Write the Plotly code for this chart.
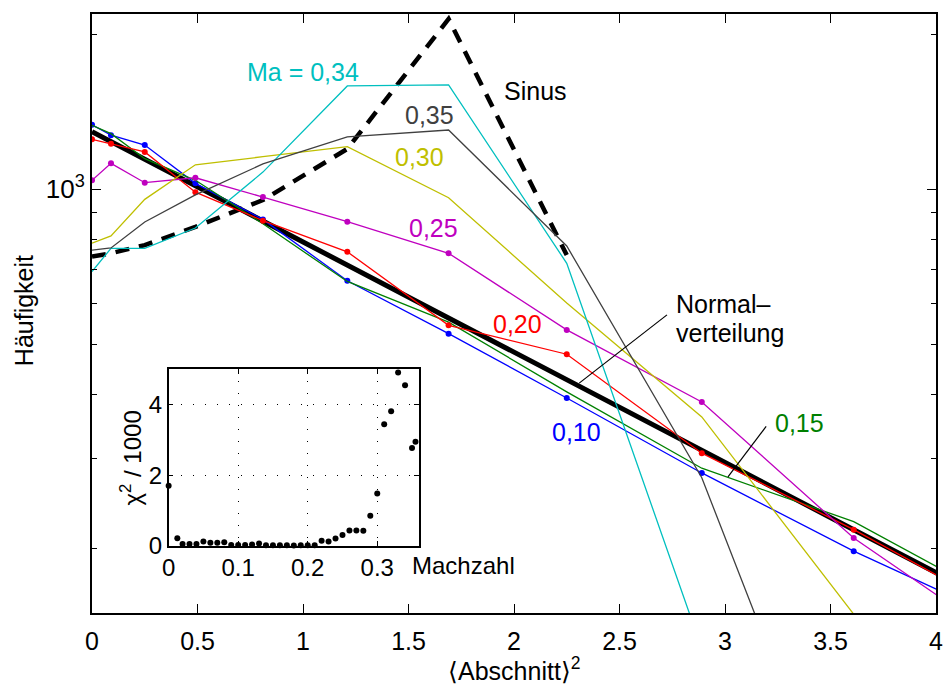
import math
import plotly.graph_objects as go

# x positions: squared bin centres  <Abschnitt>^2
abschnitt_sq = [0.0, 0.09, 0.25, 0.49, 0.81, 1.21, 1.69, 2.25, 2.89, 3.61, 4.41]

# frequency counts per Mach number
ma_010 = [1335, 1274, 1219, 1027, 874, 664, 524, 393, 281, 198, 140]
ma_015 = [1332, 1283, 1147, 1041, 857, 662, 552, 404, 287, 226, 150]
ma_020 = [1251, 1226, 1182, 987, 869, 756, 544, 478, 307, 218, 144]
ma_025 = [1041, 1123, 1030, 1053, 966, 865, 751, 533, 386, 210, 125]
ma_030 = [786, 812, 956, 1116, 1157, 1210, 963, 601, 361, 148, 56]
ma_034 = [692, 768, 768, 841, 1080, 1588, 1595, 718, 128, 25, 5]
ma_035 = [762, 769, 864, 975, 1120, 1265, 1304, 776, 275, 48, 15]

# reference distributions
normal = [1294, 1238, 1144, 1016, 868, 712, 562, 426, 311, 218, 147]
sinus = [740, 751, 779, 845, 953, 1198, 2143, 745, None, None, None]

# inset: chi^2 / 1000 versus Mach number
mach = [0.0, 0.0125, 0.02, 0.03, 0.04, 0.05, 0.06, 0.07, 0.08, 0.09,
        0.10, 0.11, 0.12, 0.13, 0.14, 0.15, 0.16, 0.17, 0.18, 0.19,
        0.20, 0.21, 0.22, 0.23, 0.24, 0.25, 0.26, 0.27, 0.28, 0.29,
        0.30, 0.31, 0.32, 0.33, 0.34, 0.35, 0.355]
chi2_k = [1.70, 0.21, 0.05, 0.05, 0.05, 0.12, 0.085, 0.085, 0.10, 0.02,
          0.02, 0.02, 0.03, 0.06, 0.01, 0.01, 0.01, 0.01, 0.005, 0.01,
          0.01, 0.01, 0.14, 0.12, 0.20, 0.30, 0.43, 0.43, 0.42, 0.85,
          1.48, 3.44, 3.81, 4.91, 4.55, 2.77, 2.95]

xticks = [0, 0.5, 1, 1.5, 2, 2.5, 3, 3.5, 4]
yminor = [200, 300, 400, 500, 600, 700, 800, 900, 2000]
inset_xticks = [0, 0.1, 0.2, 0.3]
inset_yticks = [0, 2, 4]

BLUE, GREEN, RED = "#0000ff", "#008000", "#ff0000"
CYAN, MAGENTA, OLIVE, GREY = "#00bfbf", "#bf00bf", "#bfbf00", "#404040"
FONT = "Liberation Sans, Arial, Helvetica, sans-serif"

fig = go.Figure()

fig.add_trace(go.Scatter(x=abschnitt_sq, y=normal, mode="lines",
                         line=dict(color="black", width=5)))
fig.add_trace(go.Scatter(x=abschnitt_sq, y=sinus, mode="lines",
                         line=dict(color="black", width=4.5, dash="14px,10px")))

series = [
    (ma_010, BLUE, True),
    (ma_015, GREEN, False),
    (ma_020, RED, True),
    (ma_025, MAGENTA, True),
    (ma_030, OLIVE, False),
    (ma_034, CYAN, False),
    (ma_035, GREY, False),
]
for vals, col, dots in series:
    fig.add_trace(go.Scatter(
        x=abschnitt_sq, y=vals,
        mode="lines+markers" if dots else "lines",
        line=dict(color=col, width=1.3),
        marker=dict(color=col, size=6),
    ))

# leader lines from the labels to their curves
for (x0, y0, x1, y1) in [(2.725, 570, 2.309, 420), (3.195, 346, 3.014, 276)]:
    fig.add_trace(go.Scatter(x=[x0, x1], y=[y0, y1], mode="lines",
                             line=dict(color="black", width=1.2), hoverinfo="skip"))

# inset scatter
fig.add_trace(go.Scatter(x=mach, y=chi2_k, mode="markers", xaxis="x2", yaxis="y2",
                         marker=dict(color="black", size=6), cliponaxis=False))

axis_common = dict(showline=True, linecolor="black", linewidth=2, mirror="ticks",
                   ticks="inside", tickcolor="black", tickwidth=1,
                   zeroline=False, showgrid=False)

fig.update_layout(
    width=950, height=686, autosize=False,
    margin=dict(l=92, r=7, t=14, b=73),
    paper_bgcolor="white", plot_bgcolor="white",
    showlegend=False,
    font=dict(family=FONT, size=25, color="black"),
    xaxis=dict(axis_common, range=[0, 4], tickvals=xticks, ticklen=9,
               domain=[0, 1], ticklabelstandoff=5),
    yaxis=dict(axis_common, type="log", range=[2.1765, 3.3407],
               tickvals=[1000], ticktext=["10<sup>3</sup>"], ticklen=9,
               minor=dict(tickvals=yminor, ticklen=5, ticks="inside",
                          tickcolor="black", tickwidth=1),
               domain=[0, 1], tickfont=dict(size=26)),
    xaxis2=dict(axis_common, linewidth=1.5, anchor="y2", domain=[0.0908, 0.3874],
                range=[0, 0.36], tickvals=inset_xticks,
                ticktext=["0", "0.1", "0.2", "0.3"], ticklen=5,
                showgrid=True, gridcolor="black", gridwidth=1, griddash="1px,11px",
                tickfont=dict(size=24)),
    yaxis2=dict(axis_common, linewidth=1.5, anchor="x2", domain=[0.1124, 0.4068],
                range=[0, 5], tickvals=inset_yticks, ticklen=5,
                showgrid=True, gridcolor="black", gridwidth=1, griddash="1px,11px",
                tickfont=dict(size=24)),
)

def label(text, x, y, color="black", xanchor="center"):
    fig.add_annotation(text=text, x=x, y=math.log10(y), xref="x", yref="y",
                       xanchor=xanchor, yanchor="middle", showarrow=False,
                       font=dict(color=color, size=25))

label("Ma = 0,34", 1.00, 1690, CYAN)
label("Sinus", 2.10, 1552)
label("0,35", 1.60, 1393, GREY)
label("0,30", 1.55, 1153, OLIVE)
label("0,25", 1.62, 842, MAGENTA)
label("0,20", 2.016, 547, RED)
label("0,10", 2.298, 338, BLUE)
label("0,15", 3.355, 351, GREEN)
label("Normal–", 2.756, 598, xanchor="left")
label("verteilung", 2.756, 526, xanchor="left")

# axis titles
def title(text, x, y, size, angle=0, xanchor="center"):
    fig.add_annotation(text=text, xref="paper", yref="paper", x=x, y=y,
                       xanchor=xanchor, yanchor="middle", textangle=angle,
                       showarrow=False, font=dict(size=size))

title("Häufigkeit", -0.0805, 0.504, 25, angle=-90)
title("⟨Abschnitt⟩<sup>2</sup>", 0.5, -0.093, 25)
title("Machzahl", 0.3772, 0.080, 24, xanchor="left")
title("χ<sup>2</sup> / 1000", 0.0464, 0.258, 24, angle=-90)

fig.write_html("out.html")
